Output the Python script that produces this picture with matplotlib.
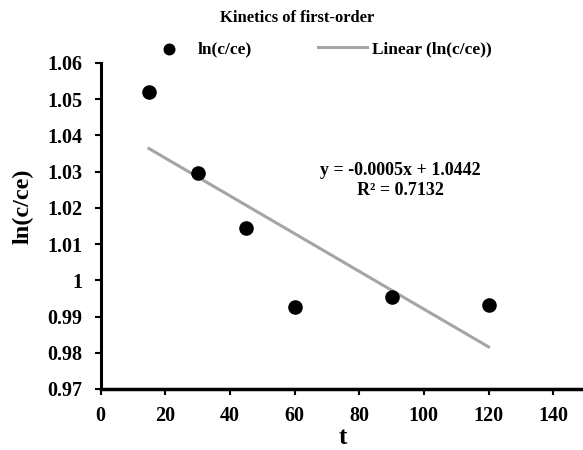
import matplotlib
matplotlib.use("Agg")
import matplotlib.pyplot as plt
import numpy as np


# sampling times and ln(c/ce) values
t = np.array([15, 30, 45, 60, 90, 120])
ln_c_ce = np.array([1.0520, 1.0297, 1.0145, 0.99261, 0.9954, 0.9933])

x_ticks = [0, 20, 40, 60, 80, 100, 120, 140]
y_ticks = [0.97, 0.98, 0.99, 1.00, 1.01, 1.02, 1.03, 1.04, 1.05, 1.06]

plt.rcParams["font.family"] = ["Liberation Serif", "DejaVu Serif"]
plt.rcParams["font.weight"] = "bold"

# least squares trendline
slope, intercept = np.polyfit(t, ln_c_ce, 1)
fit = slope * t + intercept
r2 = 1 - np.sum((ln_c_ce - fit) ** 2) / np.sum((ln_c_ce - ln_c_ce.mean()) ** 2)

fig = plt.figure(figsize=(5.83, 4.5), dpi=100)
ax = fig.add_axes([100.5 / 583, 61 / 450, 485 / 583, 326 / 450])

ax.scatter(t, ln_c_ce, s=90, color="black", zorder=3, label="ln(c/ce)")
t_line = np.array([t.min(), t.max()])
ax.plot(t_line, slope * t_line + intercept, color="#a5a5a5", lw=2.2,
        zorder=2, label="Linear (ln(c/ce))")

ax.set_xlim(0, 150)
ax.set_ylim(0.97, 1.06)
ax.set_xticks(x_ticks)
ax.set_yticks(y_ticks)
ax.set_yticklabels([f"{v:g}" for v in y_ticks])
ax.tick_params(axis="both", labelsize=14.5, width=1.5, length=4)
ax.tick_params(axis="y", pad=9)
ax.tick_params(axis="x", pad=8)

for side in ("top", "right"):
    ax.spines[side].set_visible(False)
ax.spines["left"].set_linewidth(2.2)
ax.spines["bottom"].set_linewidth(2.5)

ax.set_xlabel("t", fontsize=18, fontweight="bold", labelpad=0)
ax.set_ylabel("ln(c/ce)", fontsize=17.5, fontweight="bold", labelpad=6)
ax.yaxis.set_label_coords(-0.137, 0.56)

eq = f"y = {slope:.4f}x + {intercept:.4f}\nR² = {r2:.4f}"
ax.text(92.8, 1.0275, eq, fontsize=13, fontweight="bold", ha="center",
        va="center", linespacing=1.2)

fig.text(297 / 583, 1 - 18 / 450, "Kinetics of first-order", fontsize=12,
         fontweight="bold", ha="center", va="center")
ax.legend(loc="center", bbox_to_anchor=(318 / 583, 1 - 49 / 450),
          bbox_transform=fig.transFigure, ncol=2, frameon=False,
          fontsize=12.5, handlelength=2.8, handletextpad=0.3,
          columnspacing=3.8, markerscale=0.8)

fig.savefig("out.png", dpi=100)
